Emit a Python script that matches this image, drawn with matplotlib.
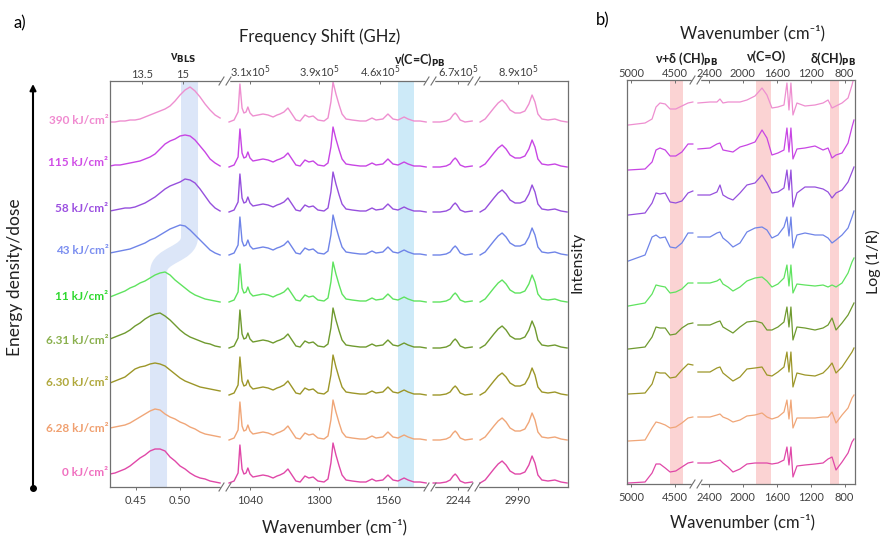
import numpy as np
import matplotlib
matplotlib.use('Agg')
import matplotlib.pyplot as plt
from matplotlib.path import Path
from matplotlib.patches import PathPatch
from matplotlib.lines import Line2D

plt.rcParams['font.family'] = ['Lato', 'DejaVu Sans']
plt.rcParams['mathtext.fontset'] = 'dejavusans'

# ---- data (top row first) ----
doses = ['390', '115', '58', '43', '11', '6.31', '6.30', '6.28', '0']
line_colors = ['#ee8fd0', '#c845e4', '#9650dd', '#6f84e8', '#5fe35f',
               '#6f9a2f', '#9c9628', '#f0a678', '#e048a8']
label_colors = ['#f08ad0', '#d04de6', '#9b4fe0', '#7b8ef0', '#2ed82e',
                '#8ab04e', '#b0a83c', '#f0a070', '#f070c0']

# stacking offsets (a.u.)
base_a = [366, 324, 279, 236, 191, 147, 104, 58, 14]
raman_drop = [1, 4, 4, 4, 6, 8, 12, 11, 10]
base_b = [359, 314, 269, 223, 178, 135, 90, 43, 1]

# Brillouin band, wavenumber (cm-1) grid and intensities per dose
bls_x = np.linspace(0.4205, 0.5455, 23)
bls_y = [
    [-1, -1, 0, 0, 1, 1, 2, 4, 6, 8, 10, 12, 15, 20, 26, 31, 34, 30, 24, 17, 11, 6, 3],
    [-3, -2, -2, -1, 0, 1, 2, 4, 6, 9, 14, 19, 22, 24, 27, 28, 27, 23, 17, 11, 4, 0, -3],
    [-3, -2, -1, 0, 0, 1, 3, 5, 8, 11, 15, 19, 22, 24, 26, 29, 28, 25, 19, 12, 5, 0, -3],
    [-2, -1, 0, 1, 2, 4, 6, 8, 11, 13, 16, 19, 22, 24, 26, 25, 21, 16, 11, 6, 1, -2, -4],
    [-1, 1, 3, 5, 8, 10, 13, 15, 18, 21, 23, 24, 21, 16, 12, 8, 4, 1, -1, -3, -4, -5, -6],
    [1, 3, 5, 7, 10, 14, 17, 21, 24, 26, 27, 24, 20, 15, 10, 6, 3, 1, -1, -3, -4, -6, -7],
    [0, 2, 4, 6, 10, 14, 16, 17, 19, 20, 19, 17, 13, 9, 5, 2, 0, -2, -4, -5, -6, -7, -8],
    [1, 2, 3, 4, 6, 9, 12, 15, 18, 20, 19, 15, 12, 10, 7, 5, 2, 0, -3, -5, -6, -7, -8],
    [-1, 0, 2, 4, 7, 11, 15, 18, 22, 24, 24, 22, 16, 12, 7, 4, 0, -3, -5, -6, -8, -9, -10],
]

# Raman fingerprint region (cm-1)
ram1_x = [961, 980, 995, 1002, 1010, 1017, 1025, 1032, 1040, 1051, 1070, 1089, 1108, 1127,
          1142, 1153, 1168, 1183, 1198, 1213, 1229, 1247, 1262, 1278, 1296, 1319, 1334,
          1345, 1353, 1364, 1376, 1387, 1402, 1425, 1455, 1477, 1500, 1515, 1541, 1560,
          1579, 1598, 1621, 1636, 1658, 1681, 1704]
ram1_y = [0, 2, 10, 38, 14, 9, 10, 15, 9, 6, 7, 8, 7, 5, 7, 8, 10, 14, 8, 2, 1, 7, 5, 6,
          2, 1, 4, 20, 40, 28, 17, 8, 3, 2, 1, 1, 4, 2, 3, 8, 3, 2, 5, 3, 1, 1, 0]
# C≡N region
ram2_x = [2150, 2176, 2199, 2214, 2225, 2233, 2240, 2252, 2270, 2297]
ram2_y = [0, 0, 1, 3, 7, 9, 7, 2, 0, 1]
# C-H stretching region
ram3_x = [2847, 2866, 2884, 2899, 2915, 2930, 2945, 2960, 2979, 2998, 3016, 3031, 3043,
          3054, 3065, 3080, 3103, 3129, 3152, 3175]
ram3_y = [0, 3, 9, 14, 19, 22, 18, 12, 9, 9, 11, 18, 27, 20, 8, 3, 2, 3, 1, 0]

# FTIR (cm-1), log(1/R) per dose
ir1_x = [5030, 4840, 4760, 4715, 4670, 4610, 4555, 4490, 4420, 4350, 4295]
ir1_y = [
    [0, 2, 6, 18, 22, 21, 16, 16, 19, 22, 23],
    [0, 1, 8, 20, 22, 20, 14, 14, 18, 26, 26],
    [0, 2, 12, 22, 21, 22, 13, 12, 14, 22, 24],
    [0, 6, 24, 26, 23, 24, 14, 13, 18, 28, 28],
    [0, 3, 12, 21, 20, 19, 13, 14, 17, 23, 23],
    [0, 2, 12, 22, 21, 21, 14, 15, 21, 25, 26],
    [0, 1, 10, 22, 21, 21, 16, 17, 24, 30, 29],
    [0, 1, 13, 19, 18, 16, 13, 14, 18, 23, 24],
    [0, 1, 10, 19, 19, 15, 11, 12, 16, 20, 21],
]
ir2_x = [2530, 2388, 2306, 2270, 2235, 2176, 2117, 2034, 1952, 1857, 1774, 1716, 1657,
         1586, 1515, 1480, 1456, 1433, 1409, 1362, 1267, 1149, 1054, 995, 948, 901, 830,
         759, 712, 689]
ir2_y = [
    [22, 23, 23, 26, 22, 23, 23, 23, 25, 29, 37, 30, 17, 18, 20, 42, 15, 42, 10, 22, 19, 20, 22, 25, 17, 19, 22, 27, 40, 48],
    [21, 22, 26, 27, 20, 19, 18, 23, 25, 28, 40, 32, 15, 17, 20, 42, 18, 42, 11, 21, 22, 24, 20, 22, 12, 15, 17, 27, 43, 50],
    [20, 20, 23, 30, 20, 17, 15, 22, 30, 32, 40, 32, 22, 23, 27, 45, 25, 45, 8, 22, 28, 28, 26, 23, 17, 22, 25, 33, 43, 48],
    [24, 24, 28, 29, 23, 19, 14, 18, 29, 33, 34, 31, 23, 26, 34, 44, 25, 44, 13, 26, 28, 26, 26, 23, 18, 21, 26, 33, 44, 50],
    [23, 23, 25, 27, 22, 19, 15, 19, 25, 28, 29, 25, 19, 22, 28, 41, 20, 41, 13, 22, 21, 20, 21, 19, 21, 19, 23, 33, 44, 48],
    [24, 24, 27, 28, 22, 19, 16, 22, 27, 28, 26, 19, 19, 22, 27, 42, 22, 42, 9, 22, 21, 19, 21, 24, 31, 19, 26, 34, 42, 46],
    [22, 22, 26, 27, 21, 17, 13, 17, 25, 26, 27, 19, 18, 22, 27, 42, 22, 42, 7, 21, 19, 18, 21, 26, 31, 21, 27, 36, 42, 46],
    [24, 24, 26, 27, 24, 22, 19, 21, 25, 26, 28, 24, 22, 24, 29, 41, 22, 41, 13, 23, 23, 23, 24, 24, 29, 18, 26, 33, 43, 46],
    [20, 20, 22, 23, 20, 16, 11, 14, 19, 20, 20, 20, 19, 20, 23, 36, 18, 36, 6, 17, 18, 19, 20, 24, 26, 13, 21, 30, 41, 44],
]

# highlighted bands
bls_band_hi = 0.5108   # cm-1, high doses
bls_band_lo = 0.4756   # cm-1, low doses
cc_band = (1598, 1658)
ir_bands = [(4555, 4407), (1845, 1668), (972, 866)]

# ---- figure ----
W, H = 881, 537
fig = plt.figure(figsize=(W / 100, H / 100), dpi=100)
spine_col = '#707070'
tick_col = '#404040'


def rect(x0, x1, y0, y1):
    return [x0 / W, 1 - y1 / H, (x1 - x0) / W, (y1 - y0) / H]


def fxy(px, py):
    return px / W, 1 - py / H


def make_seg(x0, x1, y0, y1, xlim, ylim, first, last):
    ax = fig.add_axes(rect(x0, x1, y0, y1))
    ax.set_xlim(*xlim)
    ax.set_ylim(*ylim)
    ax.set_yticks([])
    ax.patch.set_alpha(0)
    for s in ax.spines.values():
        s.set_color(spine_col)
        s.set_linewidth(0.9)
    ax.spines['left'].set_visible(first)
    ax.spines['right'].set_visible(last)
    ax.tick_params(axis='x', colors=spine_col, labelcolor=tick_col, labelsize=8,
                   length=2.5, width=0.7, pad=3)
    return ax


def top_axis(ax, lim, ticks, labels):
    tw = ax.twiny()
    tw.set_xlim(*lim)
    tw.set_xticks(ticks)
    tw.set_xticklabels(labels)
    for s in tw.spines.values():
        s.set_visible(False)
    tw.tick_params(axis='x', direction='in', colors=spine_col, labelcolor=tick_col,
                   labelsize=8, length=2.5, width=0.7, pad=1)
    return tw


def axis_break(px, py):
    xa, ya = fxy(px - 3, py)
    xb, yb = fxy(px + 3, py)
    fig.add_artist(Line2D([xa, xb], [ya, yb], color='white', lw=2.5,
                          transform=fig.transFigure, zorder=10))
    for dx in (-3.5, 3.5):
        xa, ya = fxy(px + dx - 2.5, py + 4)
        xb, yb = fxy(px + dx + 2.5, py - 4)
        fig.add_artist(Line2D([xa, xb], [ya, yb], color=spine_col, lw=0.8,
                              transform=fig.transFigure, zorder=11))


# panel a
ya0, ya1 = 81, 487
ylim_a = (0, ya1 - ya0)
a1 = make_seg(110, 225, ya0, ya1, (0.4205, 0.5511), ylim_a, True, False)
a2 = make_seg(225, 430, ya0, ya1, (945.75, 1718.6), ylim_a, False, False)
a3 = make_seg(430, 474, ya0, ya1, (2138, 2304), ylim_a, False, False)
a4 = make_seg(474, 568, ya0, ya1, (2824, 3178.5), ylim_a, False, True)
a1.set_xticks([0.45, 0.50])
a1.set_xticklabels(['0.45', '0.50'])
a2.set_xticks([1040, 1300, 1560])
a3.set_xticks([2244])
a4.set_xticks([2990])
top_axis(a1, (12.33, 16.54), [13.5, 15], ['13.5', '15'])
top_axis(a2, (2.8115, 5.177), [3.1, 3.9, 4.6],
         ['3.1x10$^5$', '3.9x10$^5$', '4.6x10$^5$'])
top_axis(a3, (6.377, 6.885), [6.7], ['6.7x10$^5$'])
top_axis(a4, (8.392, 9.477), [8.9], ['8.9x10$^5$'])

# Brillouin band (S-shaped shift)
verts = [(bls_band_hi, 430), (bls_band_hi, 250), (bls_band_hi, 232),
         (bls_band_lo, 233), (bls_band_lo, 215), (bls_band_lo, -10)]
codes = [Path.MOVETO, Path.LINETO, Path.CURVE4, Path.CURVE4, Path.CURVE4, Path.LINETO]
a1.add_patch(PathPatch(Path(verts, codes), fill=False, edgecolor='#dce6f8',
                       lw=12.24, capstyle='butt', joinstyle='round', zorder=0))
a2.axvspan(*cc_band, color='#cdeaf8', lw=0, zorder=0)

for i in range(len(doses)):
    c = line_colors[i]
    a1.plot(bls_x, np.array(bls_y[i]) + base_a[i], color=c, lw=1.0)
    rb = base_a[i] - raman_drop[i]
    a2.plot(ram1_x, np.array(ram1_y) + rb, color=c, lw=1.0)
    a3.plot(ram2_x, np.array(ram2_y) + rb, color=c, lw=1.0)
    a4.plot(ram3_x, np.array(ram3_y) + rb, color=c, lw=1.0)
    a1.text(-0.015, base_a[i], doses[i] + ' kJ/cm²', transform=a1.get_yaxis_transform(),
            ha='right', va='center', fontsize=8.5, fontweight='bold', color=label_colors[i])

# panel b
yb0, yb1 = 80, 484
ylim_b = (0, yb1 - yb0)
b1 = make_seg(627, 696, yb0, yb1, (5046, 4259), ylim_b, True, False)
b2 = make_seg(696, 855, yb0, yb1, (2553, 677), ylim_b, False, True)
b1.set_xticks([5000, 4500])
b2.set_xticks([2400, 2000, 1600, 1200, 800])
top_axis(b1, (5046, 4259), [5000, 4500], ['5000', '4500'])
top_axis(b2, (2553, 677), [2400, 2000, 1600, 1200, 800],
         ['2400', '2000', '1600', '1200', '800'])
b1.axvspan(*ir_bands[0], color='#fbd3d3', lw=0, zorder=0)
b2.axvspan(*ir_bands[1], color='#fbd3d3', lw=0, zorder=0)
b2.axvspan(*ir_bands[2], color='#fbd3d3', lw=0, zorder=0)
for i in range(len(doses)):
    c = line_colors[i]
    b1.plot(ir1_x, np.array(ir1_y[i]) + base_b[i], color=c, lw=0.9)
    b2.plot(ir2_x, np.array(ir2_y[i]) + base_b[i], color=c, lw=0.9)

# axis breaks
for px in (225, 430, 474):
    axis_break(px, ya1)
    axis_break(px, ya0)
axis_break(696, yb1)
axis_break(696, yb0)


# texts
def ftext(px, py, s, **kw):
    x, y = fxy(px, py)
    fig.text(x, y, s, ha='center', va='center', **kw)


ftext(20, 23, 'a)', fontsize=12)
ftext(603, 20, 'b)', fontsize=12)
ftext(320, 37, 'Frequency Shift (GHz)', fontsize=12, color='#222222')
ftext(335, 527, 'Wavenumber (cm⁻¹)', fontsize=12, color='#222222')
ftext(753, 33, 'Wavenumber (cm⁻¹)', fontsize=12, color='#222222')
ftext(742, 522, 'Wavenumber (cm⁻¹)', fontsize=12, color='#222222')
ftext(578, 262, 'Intensity', fontsize=11.5, rotation=90, color='#222222')
ftext(873, 262, 'Log (1/R)', fontsize=11.5, rotation=90, color='#222222')
ftext(15, 277, 'Energy density/dose', fontsize=12.5, rotation=90, color='#222222')

ann = dict(fontsize=9, fontweight='bold', color='#222222')
ftext(183, 58, r'ν$_{\mathbf{BLS}}$', **ann)
ftext(420, 60, r'ν(C=C)$_{\mathbf{PB}}$', **ann)
ftext(687, 59, r'ν+δ (CH)$_{\mathbf{PB}}$', **ann)
ftext(767, 57, 'ν(C=O)', **ann)
ftext(833, 59, r'δ(CH)$_{\mathbf{PB}}$', **ann)

# energy arrow
a1.annotate('', xy=(33, H - 84), xytext=(33, H - 488), xycoords='figure pixels',
            arrowprops=dict(arrowstyle='-|>', color='black', lw=1.5, mutation_scale=9,
                            shrinkA=0, shrinkB=0))
x, y = fxy(33, 488)
fig.add_artist(Line2D([x], [y], marker='o', ms=4, color='black', transform=fig.transFigure))

fig.savefig('out.png', dpi=100)
